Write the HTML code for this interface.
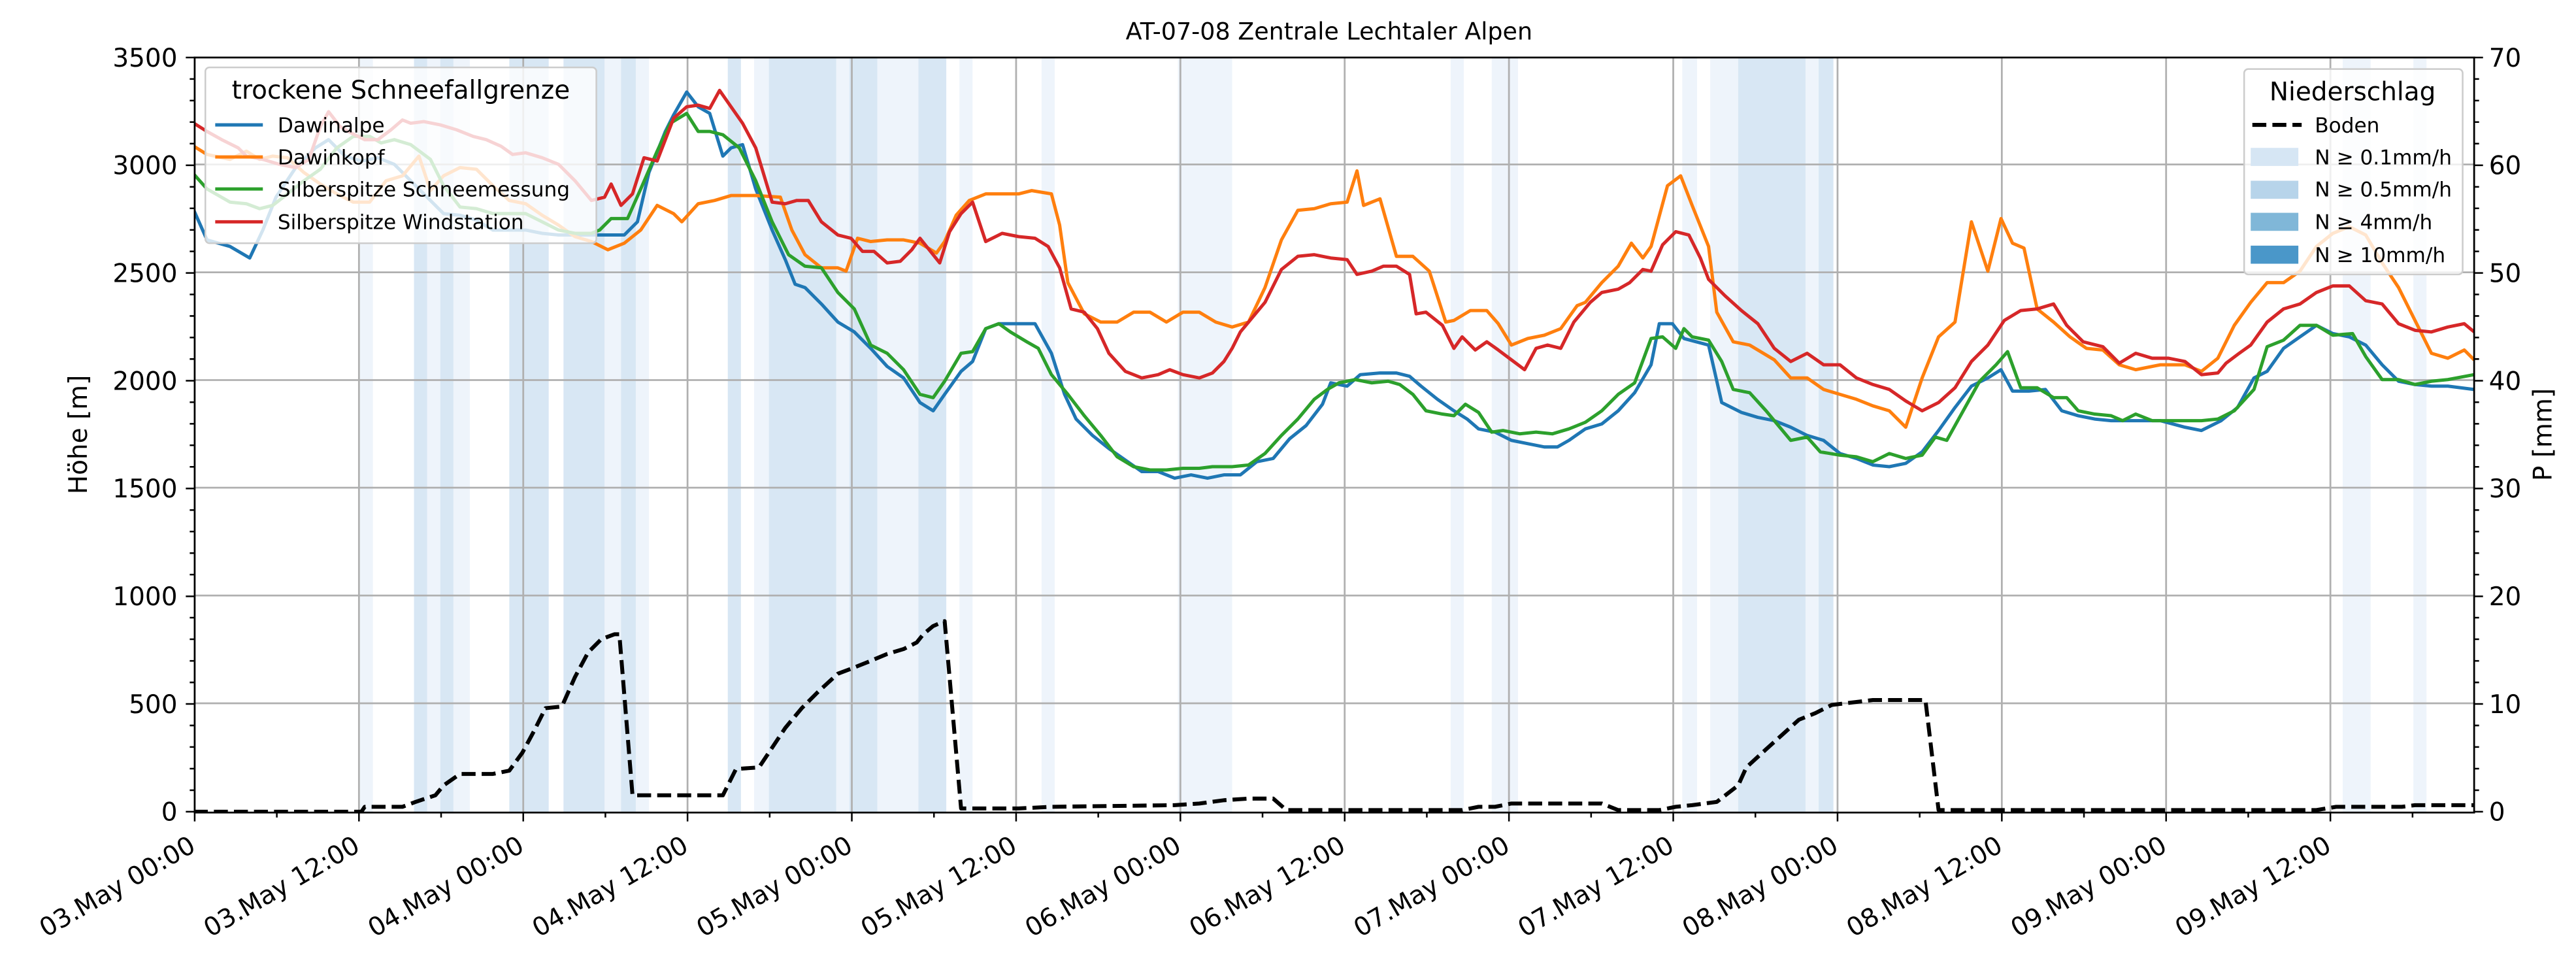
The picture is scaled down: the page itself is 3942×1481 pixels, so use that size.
<!DOCTYPE html>
<html><head><meta charset="utf-8"><style>html,body{margin:0;padding:0;background:#fff}svg{display:block}</style></head>
<body>
<svg width="3942" height="1481" viewBox="0 0 1568 589.1" preserveAspectRatio="none" xmlns="http://www.w3.org/2000/svg" font-family="DejaVu Sans, Liberation Sans, sans-serif">
<defs><clipPath id="c"><rect x="118.5" y="35" width="1387.5" height="459.5"/></clipPath></defs>
<text x="809" y="24" font-size="14.5" text-anchor="middle">AT-07-08 Zentrale Lechtaler Alpen</text>
<g clip-path="url(#c)">
<g fill="#eef4fb">
<rect x="219" y="35" width="8" height="460"/><rect x="260" y="35" width="8" height="460"/><rect x="276" y="35" width="10" height="460"/>
<rect x="368" y="35" width="10" height="460"/><rect x="387" y="35" width="8" height="460"/><rect x="459" y="35" width="9" height="460"/>
<rect x="509" y="35" width="8" height="460"/><rect x="534" y="35" width="25" height="460"/><rect x="584" y="35" width="8" height="460"/>
<rect x="634" y="35" width="8" height="460"/><rect x="717" y="35" width="33" height="460"/><rect x="883" y="35" width="8" height="460"/>
<rect x="908" y="35" width="16" height="460"/><rect x="1024" y="35" width="9" height="460"/><rect x="1041" y="35" width="17" height="460"/>
<rect x="1099" y="35" width="8" height="460"/><rect x="1426" y="35" width="17" height="460"/><rect x="1469" y="35" width="8" height="460"/>
</g>
<g fill="#d8e7f4">
<rect x="252" y="35" width="8" height="460"/><rect x="268" y="35" width="8" height="460"/><rect x="310" y="35" width="24" height="460"/>
<rect x="343" y="35" width="25" height="460"/><rect x="378" y="35" width="9" height="460"/><rect x="443" y="35" width="8" height="460"/>
<rect x="468" y="35" width="41" height="460"/><rect x="517" y="35" width="17" height="460"/><rect x="559" y="35" width="17" height="460"/>
<rect x="1058" y="35" width="41" height="460"/><rect x="1107" y="35" width="9" height="460"/>
</g>
<g stroke="#b0b0b0" stroke-width="1.1" fill="none">
<path d="M218.5 35V494M318.5 35V494M418.5 35V494M518.5 35V494M618.5 35V494M718.5 35V494M818.5 35V494M918.5 35V494M1018.5 35V494M1118.5 35V494M1218.5 35V494M1318.5 35V494M1418.5 35V494"/>
<path d="M118.5 100.1H1506M118.5 165.7H1506M118.5 231.3H1506M118.5 296.8H1506M118.5 362.4H1506M118.5 428H1506"/>
</g>
<g fill="none" stroke-width="2" stroke-linejoin="round">
<polyline stroke="#1f77b4" points="118,128 126,146 140,150 152,157 160,140 168,120 180,102 192,90 200,85 210,95 220,98 230,96 240,100 250,110 260,120 270,130 280,131 290,134 300,140 310,140 320,140 330,142 340,143 350,143 360,143 370,143 380,143 388,135 395,105 405,80 410,70 418,56 425,65 432,69 440,95 445,90 452,88 460,115 470,140 478,158 484,173 490,175 500,185 510,196 520,202 530,212 540,223 550,230 560,245 568,250 575,240 585,226 592,220 600,200 608,197 620,197 630,197 640,215 648,240 655,255 665,265 675,273 685,280 695,287 705,287 715,291 725,289 735,291 745,289 755,289 765,281 775,279 785,267 795,259 805,246 810,233 820,235 828,228 840,227 850,227 858,229 865,235 875,243 885,250 893,255 900,261 910,263 920,268 930,270 940,272 948,272 955,268 965,261 975,258 985,250 995,239 1005,222 1010,197 1018,197 1025,206 1040,210 1048,245 1060,251 1070,254 1080,256 1090,260 1100,265 1110,268 1120,276 1130,279 1140,283 1150,284 1160,282 1170,275 1180,262 1190,248 1200,235 1210,230 1218,225 1225,238 1235,238 1245,237 1255,250 1265,253 1275,255 1285,256 1300,256 1315,256 1330,260 1340,262 1352,256 1362,248 1372,230 1380,226 1390,212 1400,205 1410,198 1420,203 1430,205 1440,210 1450,222 1460,232 1470,234 1480,235 1490,235 1506,237"/>
<polyline stroke="#ff7f0e" points="118,89 126,94 140,97 150,92 158,97 166,95 175,96 185,105 195,112 205,118 215,123 225,123 235,110 245,107 255,95 262,116 270,107 280,102 290,103 300,113 310,122 320,124 330,131 340,137 350,144 360,147 370,152 380,148 390,140 400,125 410,130 415,135 425,124 435,122 445,119 460,119 475,120 482,140 490,155 500,163 510,163 515,165 522,145 530,147 540,146 550,146 560,148 570,154 575,147 582,131 590,122 600,118 610,118 620,118 628,116 640,118 645,137 650,172 660,191 670,196 680,196 690,190 700,190 710,196 720,190 730,190 740,196 750,199 760,196 770,175 780,146 790,128 800,127 810,124 820,123 826,104 830,125 840,121 850,156 860,156 870,165 880,196 885,195 895,189 905,189 912,197 920,210 930,206 940,204 950,200 960,186 965,184 975,172 985,162 993,148 1000,157 1005,150 1015,113 1023,107 1030,125 1040,150 1045,190 1055,208 1065,210 1080,219 1090,230 1100,230 1110,237 1120,240 1130,243 1140,247 1150,250 1160,260 1170,230 1180,205 1190,196 1200,135 1210,165 1218,133 1225,148 1232,151 1240,188 1250,196 1260,205 1270,212 1280,213 1290,222 1300,225 1315,222 1330,222 1340,226 1350,218 1360,198 1370,184 1380,172 1390,172 1400,165 1410,150 1420,142 1430,138 1440,143 1450,160 1460,175 1470,195 1480,215 1490,218 1500,213 1506,219"/>
<polyline stroke="#2ca02c" points="118,106 126,115 140,123 150,124 158,127 166,125 175,118 185,110 195,103 205,90 215,83 225,83 232,87 240,85 250,88 262,97 270,113 280,126 290,127 300,130 310,130 320,130 330,135 340,140 350,142 360,142 365,140 372,133 382,133 390,115 400,92 408,75 418,69 425,80 432,80 440,82 450,90 460,110 470,135 480,155 490,162 500,163 510,178 520,188 530,210 540,215 550,225 560,240 568,242 575,232 585,215 592,214 600,200 608,197 615,202 625,208 632,212 640,228 650,240 660,253 670,265 680,278 690,284 700,286 710,286 720,285 730,285 738,284 750,284 760,283 770,276 780,265 790,255 800,243 808,237 815,233 825,231 835,233 845,232 852,234 860,240 868,250 878,252 885,253 892,246 900,251 908,263 915,262 925,264 935,263 945,264 955,261 965,257 975,250 985,240 995,233 1005,206 1012,205 1020,212 1025,200 1030,205 1040,207 1048,220 1055,237 1065,239 1075,250 1080,256 1090,268 1100,266 1108,275 1120,277 1130,278 1140,281 1150,276 1160,279 1170,277 1178,266 1185,268 1195,250 1205,232 1215,222 1222,214 1230,236 1240,236 1250,242 1258,242 1265,250 1275,252 1285,253 1292,256 1300,252 1310,256 1320,256 1330,256 1340,256 1350,255 1360,250 1372,237 1380,211 1390,207 1400,198 1410,198 1420,204 1432,203 1440,217 1450,231 1460,231 1470,234 1480,232 1490,231 1506,228"/>
<polyline stroke="#d62728" points="118,75 126,80 135,85 145,90 150,95 160,97 170,100 180,102 188,97 195,77 200,68 207,77 212,80 222,85 230,85 238,79 245,73 250,75 258,74 268,76 278,79 288,83 296,85 305,89 312,94 320,93 330,96 340,100 350,110 360,122 368,120 372,112 378,125 385,118 392,96 400,98 410,72 418,65 425,64 432,66 438,55 445,65 452,75 460,90 470,123 478,124 485,122 492,122 500,135 510,143 518,145 525,153 532,153 540,160 548,159 555,152 560,145 568,155 572,160 578,141 585,130 592,123 600,147 610,142 620,144 630,145 638,150 645,163 652,188 660,190 668,200 675,215 685,226 695,230 705,228 712,225 720,228 730,230 738,227 745,220 750,212 755,202 765,190 770,184 780,164 790,156 800,155 810,157 820,158 826,167 835,165 842,162 850,162 858,167 862,191 868,190 878,198 885,212 890,205 898,213 905,208 912,213 920,219 928,225 935,212 942,210 950,212 958,196 968,184 975,178 985,176 992,172 1000,164 1005,165 1012,149 1020,141 1028,143 1035,157 1040,170 1050,180 1060,189 1070,197 1080,212 1090,220 1100,215 1110,222 1120,222 1130,230 1140,234 1150,237 1160,244 1170,250 1180,245 1190,236 1200,220 1210,210 1220,195 1230,189 1240,188 1250,185 1258,198 1268,208 1280,211 1290,221 1300,215 1310,218 1320,218 1330,220 1340,228 1350,227 1355,221 1363,215 1370,210 1380,196 1390,188 1400,185 1410,178 1420,174 1430,174 1440,183 1450,185 1460,197 1470,201 1480,202 1490,199 1500,197 1506,202"/>
<polyline stroke="#000" stroke-width="2.4" stroke-dasharray="8.5,3.7" points="118,494 220,494 222,491 245,491 253,488 265,484 270,478 280,471 300,471 310,469 318,458 325,445 332,431 342,430 350,412 358,397 366,389 374,386 377,386 385,484 440,484 448,468 462,467 470,455 478,443 488,431 498,421 510,410 518,407 528,403 540,398 550,395 558,391 562,386 568,381 575,378 585,492 610,492 620,492 640,491 715,490 730,489 745,487 760,486 775,486 783,493 890,493 900,491 910,491 920,489 975,489 985,493 1010,493 1020,491 1030,490 1045,488 1058,478 1063,467 1075,456 1085,447 1095,438 1105,434 1115,429 1140,426 1172,426 1180,493 1410,493 1422,491 1462,491 1470,490 1506,490"/>
</g>
</g>
<rect x="118.5" y="35" width="1387.5" height="459.5" fill="none" stroke="#000" stroke-width="1.1"/>
<g stroke="#000" stroke-width="1">
<path d="M118.5 494.5v5.4M218.5 494.5v5.4M318.5 494.5v5.4M418.5 494.5v5.4M518.5 494.5v5.4M618.5 494.5v5.4M718.5 494.5v5.4M818.5 494.5v5.4M918.5 494.5v5.4M1018.5 494.5v5.4M1118.5 494.5v5.4M1218.5 494.5v5.4M1318.5 494.5v5.4M1418.5 494.5v5.4"/>
<path d="M168.5 494.5v3M268.5 494.5v3M368.5 494.5v3M468.5 494.5v3M568.5 494.5v3M668.5 494.5v3M768.5 494.5v3M868.5 494.5v3M968.5 494.5v3M1068.5 494.5v3M1168.5 494.5v3M1268.5 494.5v3M1368.5 494.5v3M1468.5 494.5v3"/>
<path d="M118.5 35h-5.4M118.5 100.6h-5.4M118.5 166.1h-5.4M118.5 231.7h-5.4M118.5 297.3h-5.4M118.5 362.9h-5.4M118.5 428.4h-5.4M118.5 494h-5.4"/>
<path d="M1506 35h5.4M1506 100.6h5.4M1506 166.1h5.4M1506 231.7h5.4M1506 297.3h5.4M1506 362.9h5.4M1506 428.4h5.4M1506 494h5.4"/>
<path id="mt" d="M118.5 48.1h-3M118.5 61.2h-3M118.5 74.3h-3M118.5 87.4h-3M118.5 113.7h-3M118.5 126.8h-3M118.5 139.9h-3M118.5 153h-3M118.5 179.2h-3M118.5 192.3h-3M118.5 205.4h-3M118.5 218.5h-3M118.5 244.8h-3M118.5 257.9h-3M118.5 271h-3M118.5 284.1h-3M118.5 310.4h-3M118.5 323.5h-3M118.5 336.6h-3M118.5 349.7h-3M118.5 375.9h-3M118.5 389h-3M118.5 402.2h-3M118.5 415.3h-3M118.5 441.5h-3M118.5 454.6h-3M118.5 467.8h-3M118.5 480.9h-3"/>
<use href="#mt" transform="translate(1624.5,0) scale(-1,1)"/>
</g>
<g font-size="15.5" text-anchor="end">
<text x="108" y="40.5">3500</text><text x="108" y="106">3000</text><text x="108" y="171.6">2500</text><text x="108" y="237.2">2000</text><text x="108" y="302.8">1500</text><text x="108" y="368.4">1000</text><text x="108" y="433.9">500</text><text x="108" y="499.5">0</text>
</g>
<g font-size="15.5">
<text x="1515" y="40.5">70</text><text x="1515" y="106">60</text><text x="1515" y="171.6">50</text><text x="1515" y="237.2">40</text><text x="1515" y="302.8">30</text><text x="1515" y="368.4">20</text><text x="1515" y="433.9">10</text><text x="1515" y="499.5">0</text>
</g>
<text transform="translate(53,264.5) rotate(-90)" font-size="15.5" text-anchor="middle">Höhe [m]</text>
<text transform="translate(1553,264.5) rotate(-90)" font-size="15.5" text-anchor="middle">P [mm]</text>
<g font-size="15.5" text-anchor="end">
<text transform="translate(120,517.5) rotate(-30)">03.May 00:00</text>
<text transform="translate(220,517.5) rotate(-30)">03.May 12:00</text>
<text transform="translate(320,517.5) rotate(-30)">04.May 00:00</text>
<text transform="translate(420,517.5) rotate(-30)">04.May 12:00</text>
<text transform="translate(520,517.5) rotate(-30)">05.May 00:00</text>
<text transform="translate(620,517.5) rotate(-30)">05.May 12:00</text>
<text transform="translate(720,517.5) rotate(-30)">06.May 00:00</text>
<text transform="translate(820,517.5) rotate(-30)">06.May 12:00</text>
<text transform="translate(920,517.5) rotate(-30)">07.May 00:00</text>
<text transform="translate(1020,517.5) rotate(-30)">07.May 12:00</text>
<text transform="translate(1120,517.5) rotate(-30)">08.May 00:00</text>
<text transform="translate(1220,517.5) rotate(-30)">08.May 12:00</text>
<text transform="translate(1320,517.5) rotate(-30)">09.May 00:00</text>
<text transform="translate(1420,517.5) rotate(-30)">09.May 12:00</text>
</g>
<rect x="125" y="41" width="238" height="107" rx="2.5" fill="#fff" fill-opacity="0.8" stroke="#cccccc" stroke-width="1"/>
<text x="244" y="60" font-size="15.5" text-anchor="middle">trockene Schneefallgrenze</text>
<g stroke-width="2"><path d="M131 76h29" stroke="#1f77b4"/><path d="M131 95.5h29" stroke="#ff7f0e"/><path d="M131 115h29" stroke="#2ca02c"/><path d="M131 135h29" stroke="#d62728"/></g>
<g font-size="12.4"><text x="169" y="80.5">Dawinalpe</text><text x="169" y="100">Dawinkopf</text><text x="169" y="119.5">Silberspitze Schneemessung</text><text x="169" y="139.5">Silberspitze Windstation</text></g>
<rect x="1366" y="42" width="133" height="125" rx="2.5" fill="#fff" fill-opacity="0.8" stroke="#cccccc" stroke-width="1"/>
<text x="1432" y="61" font-size="15.5" text-anchor="middle">Niederschlag</text>
<path d="M1371 76h30" stroke="#000" stroke-width="2.4" stroke-dasharray="8.5,3.7"/>
<rect x="1370" y="90" width="29" height="11" fill="#d6e6f4"/><rect x="1370" y="110" width="29" height="11" fill="#b7d4ea"/><rect x="1370" y="129.5" width="29" height="11" fill="#80b7d8"/><rect x="1370" y="149.5" width="29" height="11" fill="#4a97c9"/>
<g font-size="12.4"><text x="1409" y="80.5">Boden</text><text x="1409" y="100">N ≥ 0.1mm/h</text><text x="1409" y="119.5">N ≥ 0.5mm/h</text><text x="1409" y="139.5">N ≥ 4mm/h</text><text x="1409" y="159.5">N ≥ 10mm/h</text></g>
</svg>
</body></html>
